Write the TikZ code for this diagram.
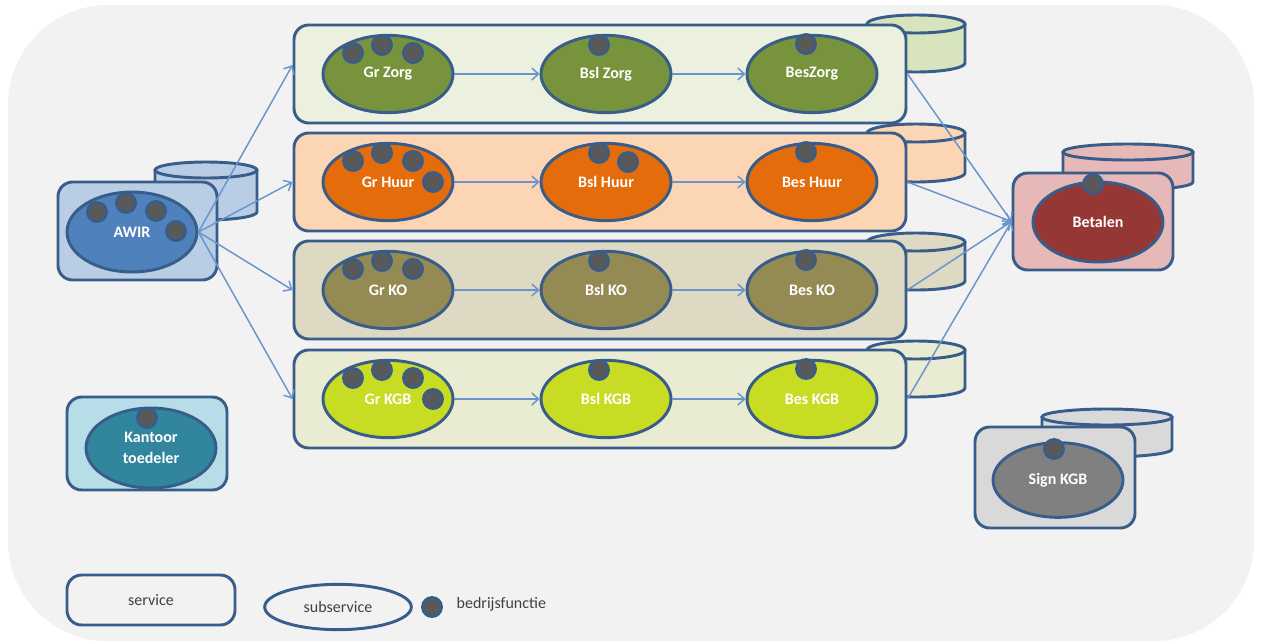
\documentclass[tikz,border=0pt]{standalone}
\usepackage{fontspec}
\setmainfont{Carlito}
\usetikzlibrary{shapes.geometric,arrows.meta,calc}

\definecolor{canvas}{HTML}{F2F2F2}
\definecolor{edge}{RGB}{56,93,138}
\definecolor{flowblue}{HTML}{6A95CC}
\definecolor{dotgray}{HTML}{595959}
\definecolor{legendtext}{HTML}{404040}
% service / subservice colours
\definecolor{awirbg}{HTML}{B9CDE5}   \definecolor{awirsub}{HTML}{4F81BD}
\definecolor{zorgbg}{HTML}{EBF1DE}   \definecolor{zorgdb}{HTML}{D7E4BD}  \definecolor{zorgsub}{HTML}{77933C}
\definecolor{huurbg}{HTML}{FCD5B5}   \definecolor{huursub}{HTML}{E46C0A}
\definecolor{kobg}{HTML}{DDD9C3}     \definecolor{kosub}{HTML}{948A54}
\definecolor{kgbbg}{HTML}{E9EBD3}    \definecolor{kgbsub}{HTML}{C8DC24}
\definecolor{betbg}{HTML}{E6B9B8}    \definecolor{betsub}{HTML}{953735}
\definecolor{kanbg}{HTML}{B7DEE8}    \definecolor{kansub}{HTML}{31859C}
\definecolor{signbg}{HTML}{D9D9D9}   \definecolor{signsub}{HTML}{808080}

% data store drum: centre x, top y, bottom y, x radius, y radius, fill
% (y axis points down, so the lower half of an ellipse runs from 180 to 0 degrees)
\newcommand\drum[6]{%
  \filldraw[fill=#6,draw=edge,line width=2.2pt,line join=round]
    (#1-#4,#2) -- (#1-#4,#3)
    arc[start angle=180,end angle=0,x radius=#4,y radius=#5]
    -- (#1+#4,#2) -- cycle;
  \filldraw[fill=#6,draw=edge,line width=2.2pt] (#1,#2) ellipse[x radius=#4,y radius=#5];
}

\begin{document}
\begin{tikzpicture}[x=0.75pt,y=-0.75pt,
  svc/.style={rectangle,rounded corners=11pt,draw=edge,line width=2.2pt,inner sep=0pt},
  sub/.style={ellipse,draw=edge,line width=2.2pt,inner sep=0pt,
              minimum width=97.5pt,minimum height=58pt,
              text=white,font=\bfseries\fontsize{12}{16}\selectfont,align=center},
  fn/.style={circle,fill=dotgray,draw=edge,line width=1.9pt,minimum size=14.5pt,inner sep=0pt},
  flow/.style={draw=flowblue,line width=1.1pt,-{Straight Barb[length=5pt,width=9pt]}},
  legend/.style={text=legendtext,font=\fontsize{12}{14}\selectfont}]

\useasboundingbox (0,0) rectangle (1264,643);
\fill[white] (0,0) rectangle (1264,643);
\fill[canvas,rounded corners=75pt] (8,5) rectangle (1254,641);

% ---------- data stores ----------
\drum{206}{170}{212}{51}{8}{awirbg}
\drum{916}{24}{63}{49}{9}{zorgdb}
\drum{916}{133}{173}{49}{9}{huurbg}
\drum{916}{242}{281}{49}{9}{kobg}
\drum{916}{350}{388}{49}{9}{kgbbg}
\drum{1128}{152}{182}{65}{8}{betbg}
\drum{1107}{417}{449}{65}{8}{signbg}

% ---------- services ----------
\node[svc,fill=awirbg,minimum width=119.25pt,minimum height=73.5pt] (awir) at (137.5,231) {};
\node[svc,fill=zorgbg,minimum width=459pt,minimum height=73.5pt] (zorg) at (600,74) {};
\node[svc,fill=huurbg,minimum width=459pt,minimum height=73.5pt] (huur) at (600,182) {};
\node[svc,fill=kobg,minimum width=459pt,minimum height=73.5pt] (ko) at (600,290) {};
\node[svc,fill=kgbbg,minimum width=459pt,minimum height=73.5pt] (kgb) at (600,399) {};
\node[svc,fill=betbg,minimum width=120pt,minimum height=72.75pt] (betalen) at (1093,221.5) {};
\node[svc,fill=kanbg,minimum width=120pt,minimum height=69.75pt] (kantoor) at (147,443.5) {};
\node[svc,fill=signbg,minimum width=120pt,minimum height=75.75pt] (sign) at (1055,477.5) {};

% ---------- subservices ----------
\node[sub,fill=awirsub,minimum height=60pt] (awirS) at (132,232) {AWIR};
\node[sub,fill=betsub,minimum height=60pt] (betalenS) at (1098,222) {Betalen};
\node[sub,fill=kansub,minimum height=60pt] (kantoorS) at (151,448) {Kantoor\\toedeler};
\node[sub,fill=signsub,minimum height=56pt] (signS) at (1058,480) {Sign KGB};

\node[sub,fill=zorgsub] (grZorg)  at (388,74) {Gr Zorg};
\node[sub,fill=zorgsub] (bslZorg) at (606,74) {Bsl Zorg};
\node[sub,fill=zorgsub] (besZorg) at (812,74) {BesZorg};

\node[sub,fill=huursub] (grHuur)  at (388,182) {Gr Huur};
\node[sub,fill=huursub] (bslHuur) at (606,182) {Bsl Huur};
\node[sub,fill=huursub] (besHuur) at (812,182) {Bes Huur};

\node[sub,fill=kosub] (grKO)  at (388,290) {Gr KO};
\node[sub,fill=kosub] (bslKO) at (606,290) {Bsl KO};
\node[sub,fill=kosub] (besKO) at (812,290) {Bes KO};

\node[sub,fill=kgbsub] (grKGB)  at (388,399) {Gr KGB};
\node[sub,fill=kgbsub] (bslKGB) at (606,399) {Bsl KGB};
\node[sub,fill=kgbsub] (besKGB) at (812,399) {Bes KGB};

% ---------- business functions ----------
\node[fn] (awirF1) at (97,212) {};
\node[fn] (awirF2) at (126,203) {};
\node[fn] (awirF3) at (156,211) {};
\node[fn] (awirF4) at (176,231) {};

\node[fn] (grZorgF1) at ($(grZorg)+(-35,-21)$) {};
\node[fn] (grZorgF2) at ($(grZorg)+(-6,-29)$) {};
\node[fn] (grZorgF3) at ($(grZorg)+(25,-21)$) {};
\node[fn] (bslZorgF1) at ($(bslZorg)+(-7,-29)$) {};
\node[fn] (besZorgF1) at ($(besZorg)+(-6,-30)$) {};

\node[fn] (grHuurF1) at ($(grHuur)+(-35,-21)$) {};
\node[fn] (grHuurF2) at ($(grHuur)+(-6,-29)$) {};
\node[fn] (grHuurF3) at ($(grHuur)+(25,-21)$) {};
\node[fn] (grHuurF4) at ($(grHuur)+(45,0)$) {};
\node[fn] (bslHuurF1) at ($(bslHuur)+(-7,-29)$) {};
\node[fn] (bslHuurF2) at ($(bslHuur)+(22,-20)$) {};
\node[fn] (besHuurF1) at ($(besHuur)+(-6,-30)$) {};

\node[fn] (grKOF1) at ($(grKO)+(-35,-21)$) {};
\node[fn] (grKOF2) at ($(grKO)+(-6,-29)$) {};
\node[fn] (grKOF3) at ($(grKO)+(25,-21)$) {};
\node[fn] (bslKOF1) at ($(bslKO)+(-7,-29)$) {};
\node[fn] (besKOF1) at ($(besKO)+(-6,-30)$) {};

\node[fn] (grKGBF1) at ($(grKGB)+(-35,-21)$) {};
\node[fn] (grKGBF2) at ($(grKGB)+(-6,-29)$) {};
\node[fn] (grKGBF3) at ($(grKGB)+(25,-21)$) {};
\node[fn] (grKGBF4) at ($(grKGB)+(45,0)$) {};
\node[fn] (bslKGBF1) at ($(bslKGB)+(-7,-29)$) {};
\node[fn] (besKGBF1) at ($(besKGB)+(-6,-30)$) {};

\node[fn] (betalenF1) at (1093,184) {};
\node[fn] (kantoorF1) at (147,418) {};
\node[fn] (signF1) at (1054,449) {};

% ---------- flows ----------
\foreach \r in {Zorg,Huur,KO,KGB}{
  \draw[flow] (gr\r) -- (bsl\r);
  \draw[flow] (bsl\r) -- (bes\r);
}
\draw[flow] (awirS.east) -- ($(zorg.west)+(0,-9)$);
\draw[flow] (awirS.east) -- (huur.west);
\draw[flow] (awirS.east) -- (ko.west);
\draw[flow] (awirS.east) -- (kgb.west);
\foreach \r in {zorg,huur,ko,kgb}{
  \draw[flow] (\r.east) -- (betalen.west);
}

% ---------- legend ----------
\node[svc,minimum width=126pt,minimum height=37.5pt,legend] (legService) at (151,600) {service};
\node[ellipse,draw=edge,line width=2.2pt,inner sep=0pt,minimum width=110pt,minimum height=34pt,legend]
  (legSub) at (338,607) {subservice};
\node[fn] (legFn) at (432,607) {};
\node[legend,anchor=west] (legFnText) at (452,604) {bedrijsfunctie};

\end{tikzpicture}
\end{document}
